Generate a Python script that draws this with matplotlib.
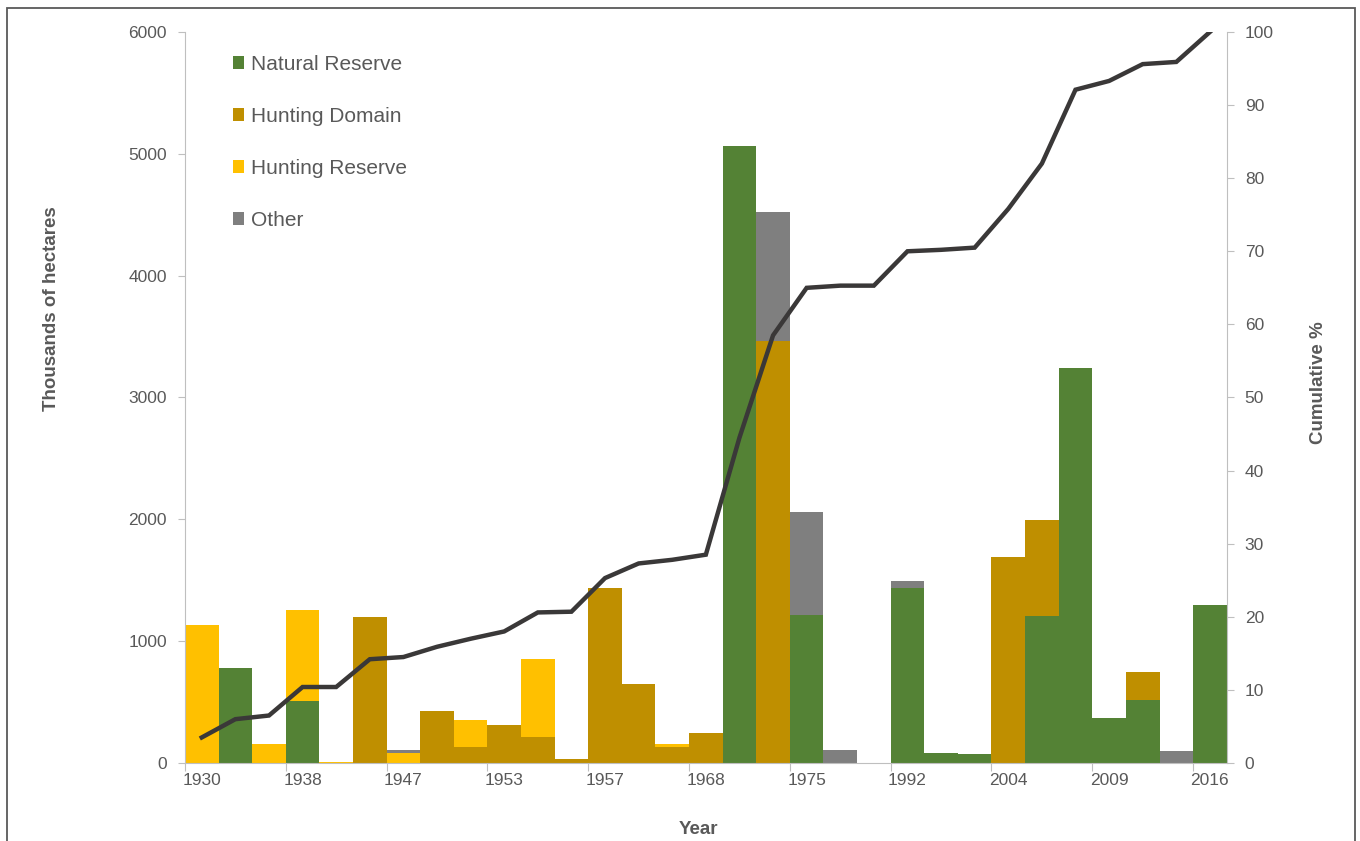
import numpy as np
import matplotlib.pyplot as plt
from matplotlib.patches import Rectangle

plt.rcParams['font.family'] = ['Liberation Sans', 'DejaVu Sans']

# 31 periods, only every third one is labelled on the axis
tick_labels = ["1930", "1938", "1947", "1953", "1957", "1968",
               "1975", "1992", "2004", "2009", "2016"]

natural_reserve = [0, 780, 0, 510, 0, 0, 0, 0, 0, 0, 0, 0, 0, 0, 0, 0,
                   5060, 0, 1215, 0, 0, 1440, 85, 75, 0, 1205, 3240, 370, 515, 0, 1295]
hunting_domain = [0, 0, 0, 0, 0, 1195, 0, 430, 135, 310, 215, 35, 1440, 645, 130, 250,
                  0, 3460, 0, 0, 0, 0, 0, 0, 1690, 790, 0, 0, 235, 0, 0]
hunting_reserve = [1130, 0, 160, 750, 8, 0, 80, 0, 220, 0, 640, 0, 0, 0, 25, 0,
                   0, 0, 0, 0, 0, 0, 0, 0, 0, 0, 0, 0, 0, 0, 0]
other = [0, 0, 0, 0, 0, 0, 30, 0, 0, 0, 0, 0, 0, 0, 0, 0,
         0, 1060, 845, 105, 0, 50, 0, 0, 0, 0, 0, 0, 0, 100, 0]
cumulative = [3.5, 6.0, 6.5, 10.4, 10.4, 14.2, 14.5, 15.9, 17.0, 18.0, 20.6, 20.7,
              25.3, 27.3, 27.8, 28.5, 44.5, 58.5, 65.0, 65.3, 65.3, 70.0, 70.2, 70.5,
              75.8, 82.0, 92.1, 93.3, 95.6, 95.9, 100.0]

series = [("Natural Reserve", natural_reserve, "#548235"),
          ("Hunting Domain", hunting_domain, "#BF8F00"),
          ("Hunting Reserve", hunting_reserve, "#FFC000"),
          ("Other", other, "#7F7F7F")]

txt = "#595959"
spine = "#BFBFBF"

fig = plt.figure(figsize=(13.6, 8.41), dpi=100)
ax = fig.add_axes([0.136, 0.0927, 0.766, 0.8693])

x = np.arange(len(cumulative))
bottom = np.zeros(len(x))
for name, vals, col in series:
    vals = np.array(vals, dtype=float)
    ax.bar(x, vals, width=1.0, bottom=bottom, color=col, label=name, linewidth=0)
    bottom += vals

ax.set_xlim(-0.5, len(x) - 0.5)
ax.set_ylim(0, 6000)
ax.set_yticks(range(0, 6001, 1000))

# tick marks on category boundaries, labels centred on the category
ax.set_xticks(np.arange(0, len(x), 3) - 0.5)
ax.set_xticklabels([])
ax.set_xticks(np.arange(0, len(x), 3), minor=True)
ax.set_xticklabels(tick_labels, minor=True)
ax.tick_params(axis='x', which='minor', length=0, pad=7, labelsize=12.5, labelcolor=txt)
ax.tick_params(axis='x', which='major', length=6, color=spine, direction='out')
ax.tick_params(axis='y', length=5, color=spine, labelsize=12.5, labelcolor=txt, pad=8)

for s in ['top', 'right']:
    ax.spines[s].set_visible(False)
ax.spines['left'].set_color(spine)
ax.spines['bottom'].set_color(spine)

ax.set_ylabel("Thousands of hectares", fontsize=13.5, fontweight='bold', color=txt)
ax.yaxis.set_label_coords(-0.12, 0.622)
ax.set_xlabel("Year", fontsize=13.5, fontweight='bold', color=txt)
ax.xaxis.set_label_coords(0.493, -0.079)

leg = ax.legend(loc='upper left', bbox_to_anchor=(0.028, 0.994), frameon=False,
                fontsize=15, labelspacing=1.58, handlelength=0.55, handleheight=0.55,
                handletextpad=0.3, labelcolor=txt)

ax2 = ax.twinx()
ax2.plot(x, cumulative, color="#3A3838", linewidth=3.2, solid_joinstyle='miter')
ax2.set_ylim(0, 100)
ax2.set_yticks(range(0, 101, 10))
ax2.tick_params(axis='y', length=5, color=spine, labelsize=12.5, labelcolor=txt, pad=8)
for s in ['top', 'left', 'bottom']:
    ax2.spines[s].set_visible(False)
ax2.spines['right'].set_color(spine)
ax2.set_ylabel("Cumulative %", fontsize=13.5, fontweight='bold', color=txt)
ax2.yaxis.set_label_coords(1.080, 0.52)

# outer frame of the figure (bottom edge falls outside the picture)
fig.patches.append(Rectangle((7 / 1360, -0.05), 1348 / 1360, 1.05 - 8 / 841,
                             transform=fig.transFigure, fill=False,
                             edgecolor="#595959", linewidth=1.3))

fig.savefig("out.png", dpi=100)
